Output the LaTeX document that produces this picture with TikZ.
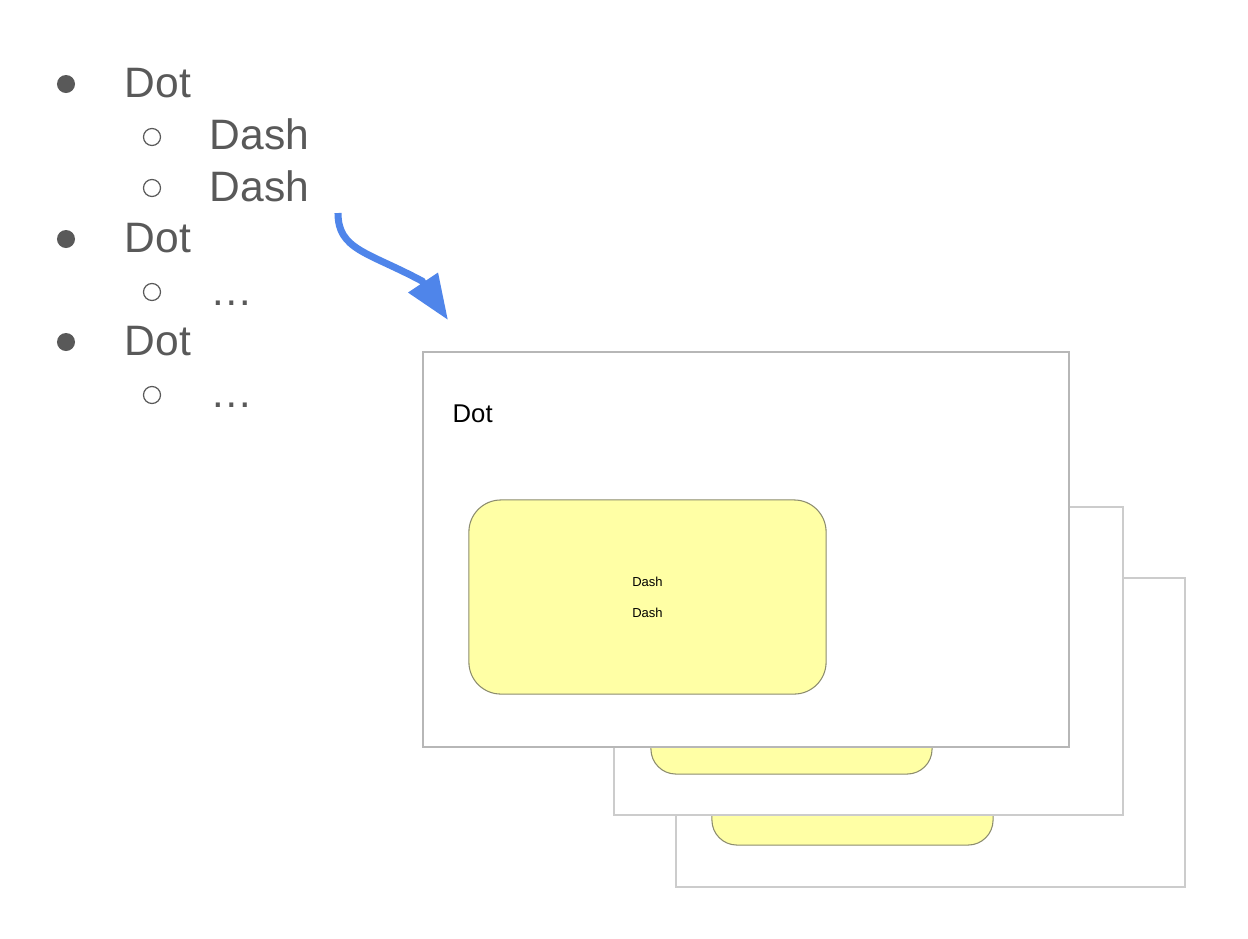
\documentclass[tikz,border=0pt]{standalone}
\usepackage{fontspec}
\setmainfont{Liberation Sans}
\usetikzlibrary{arrows.meta}
\definecolor{listgray}{HTML}{595959}
\definecolor{arrowblue}{HTML}{4F85EA}
\definecolor{cardyellow}{HTML}{FFFFA5}
\definecolor{cardline}{HTML}{8C8C6E}
\definecolor{slideline}{HTML}{CCCCCC}
\definecolor{frontline}{HTML}{B7B7B7}

\begin{document}
\begin{tikzpicture}[x=0.01cm,y=-0.01cm,
    dotbullet/.style={circle,fill=listgray,inner sep=0pt,minimum size=0.18cm},
    dashbullet/.style={circle,draw=listgray,line width=0.35pt,inner sep=0pt,minimum size=0.17cm},
    item/.style={anchor=base west,inner sep=0pt,text=listgray,font=\fontsize{12.1}{14}\selectfont},
    slide/.style={draw=slideline,line width=0.6pt,fill=white,inner sep=0pt},
    bigslide/.style={slide,minimum width=6.46cm,minimum height=3.95cm},
    smallslide/.style={slide,minimum width=5.09cm,minimum height=3.08cm},
    card/.style={draw=cardline,line width=0.3pt,fill=cardyellow,inner sep=0pt},
    bigcard/.style={card,rounded corners=0.32cm,minimum width=3.57cm,minimum height=1.94cm},
    smallcard/.style={card,rounded corners=0.25cm,minimum width=2.81cm,minimum height=1.50cm}]

        \useasboundingbox (0,0) rectangle (1248,938);

        \begin{scope}
          \node[dotbullet]  (b1) at (66,84)   {};
          \node[dashbullet] (b2) at (152,137) {};
          \node[dashbullet] (b3) at (152,188) {};
          \node[dotbullet]  (b4) at (66,239)  {};
          \node[dashbullet] (b5) at (152,292) {};
          \node[dotbullet]  (b6) at (66,342)  {};
          \node[dashbullet] (b7) at (152,395) {};

          \node[item] (t1) at (124,97)  {Dot};
          \node[item] (t2) at (209,149) {Dash};
          \node[item] (t3) at (209,201) {Dash};
          \node[item] (t4) at (124,252) {Dot};
          \node[item] (t5) at (210,305) {\ldots};
          \node[item] (t6) at (124,355) {Dot};
          \node[item] (t7) at (210,407) {\ldots};
        \end{scope}

        \node[smallslide] (s3) at (930.5,732.5) {};
        \node[smallcard]  (c3) at (852.5,770)   {};
        \node[smallslide] (s2) at (868.5,661)   {};
        \node[smallcard]  (c2) at (791.5,699)   {};
        \node[bigslide,draw=frontline] (s1) at (746,549.5) {};
        \node[bigcard,align=center,font=\fontsize{3.7}{8.8}\selectfont] (c1) at (647.5,597) {Dash\\Dash};
        \node[anchor=base west,inner sep=0pt,font=\fontsize{7.3}{9}\selectfont] (title) at (452,422) {Dot};

        \coordinate (start) at (338,213);
        \coordinate (bend)  at (422,281);
        \coordinate (tip)   at (448,320);
        \draw[arrowblue,line width=2pt,-{Triangle[length=0.45cm,width=0.34cm]}]
          (start) .. controls (338,250) and (368,252) .. (bend) -- (tip);

      \end{tikzpicture}
\end{document}
